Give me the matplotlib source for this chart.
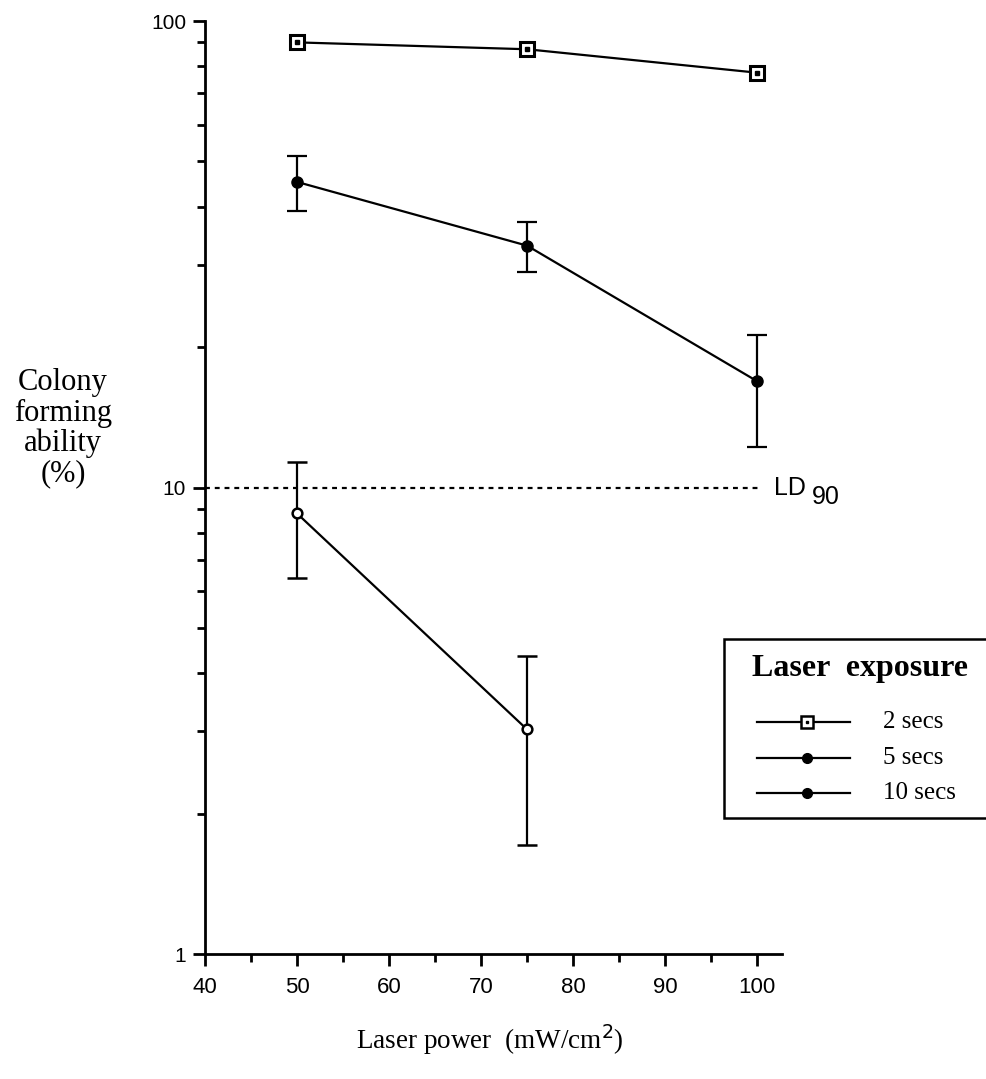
import matplotlib
matplotlib.use("Agg")
import matplotlib.pyplot as plt
from matplotlib.lines import Line2D
from matplotlib.patches import Rectangle
from matplotlib.ticker import FixedLocator, NullFormatter, LogLocator

# 데이터
power = [50, 75, 100]
cfa_2s = [90.0, 87.0, 77.5]
cfa_5s = [45.2, 33.0, 16.9]
err_5s_hi = [51.4, 37.0, 21.2]
err_5s_lo = [39.1, 29.0, 12.2]
power_10s = [50, 75]
cfa_10s = [8.8, 3.03]
err_10s_hi = [11.35, 4.35]
err_10s_lo = [6.4, 1.71]
ld90 = 10
series_labels = ["2 secs", "5 secs", "10 secs"]

SANS = ["Liberation Sans", "DejaVu Sans"]
SERIF = ["Liberation Serif", "DejaVu Serif"]
plt.rcParams["font.family"] = SANS

fig = plt.figure(figsize=(9.86, 10.79), dpi=100)
ax = fig.add_axes([0.2079, 0.1158, 0.5852, 0.8647])
ax.set_yscale("log")
ax.set_xlim(40, 102.7)
ax.set_ylim(1, 100)

lw = 1.6
# 2 secs: 속이 빈 사각형 + 가운데 점
ax.plot(power, cfa_2s, color="black", lw=lw, marker="s", ms=10,
        mfc="white", mec="black", mew=2.2, zorder=3)
ax.plot(power, cfa_2s, ls="none", marker="s", ms=2.5, color="black", zorder=4)

# 5 secs
yerr5 = [[c - lo for c, lo in zip(cfa_5s, err_5s_lo)], [hi - c for c, hi in zip(cfa_5s, err_5s_hi)]]
ax.errorbar(power, cfa_5s, yerr=yerr5, color="black", lw=lw, marker="o", ms=8,
            capsize=7, capthick=lw, elinewidth=lw, zorder=3)

# 10 secs
yerr10 = [[c - lo for c, lo in zip(cfa_10s, err_10s_lo)], [hi - c for c, hi in zip(cfa_10s, err_10s_hi)]]
ax.errorbar(power_10s, cfa_10s, yerr=yerr10, color="black", lw=lw, marker="o", ms=7,
            mfc="white", mec="black", mew=1.8, capsize=7, capthick=lw, elinewidth=lw, zorder=3)

# LD90 기준선
ax.plot([40, 100.3], [ld90, ld90], color="black", lw=1.6, ls=(0, (2.2, 2.2)), zorder=2)
ax.text(101.8, ld90, "LD", fontsize=18, va="center", ha="left")
ax.text(106.0, ld90 * 0.955, "90", fontsize=18, va="center", ha="left")

# 축 스타일
for s in ("top", "right"):
    ax.spines[s].set_visible(False)
for s in ("left", "bottom"):
    ax.spines[s].set_linewidth(2)
ax.yaxis.set_major_locator(FixedLocator([1, 10, 100]))
ax.set_yticklabels(["1", "10", "100"])
ax.yaxis.set_minor_locator(LogLocator(base=10, subs=range(2, 10)))
ax.yaxis.set_minor_formatter(NullFormatter())
ax.set_xticks(range(40, 101, 10))
ax.set_xticks(range(45, 101, 10), minor=True)
ax.tick_params(which="major", direction="out", length=8.5, width=2, colors="black")
ax.tick_params(which="minor", direction="out", length=5.5, width=2)
ax.tick_params(axis="x", which="major", labelsize=16, pad=8)
ax.tick_params(axis="y", which="major", labelsize=15, pad=5)

fig.text(0.064, 0.603, "Colony\nforming\nability\n(%)", family=SERIF, fontsize=22,
         ha="center", va="center", linespacing=1.05)
fig.text(0.497, 0.036, "Laser power  (mW/cm$^2$)", family=SERIF, fontsize=19.5,
         ha="center", va="center")

# 범례 상자 (오른쪽이 그림 밖으로 잘림)
fig.add_artist(Rectangle((0.7343, 0.2419), 0.35, 0.1659, transform=fig.transFigure,
                         facecolor="white", edgecolor="black", lw=1.8, zorder=5))
fig.text(0.7627, 0.3809, "Laser  exposure", family=SERIF, fontsize=23, weight="bold",
         ha="left", va="center", zorder=6)
row_y = [0.3309, 0.2975, 0.2651]
leg_markers = [dict(marker="s", ms=8, mfc="white", mec="black", mew=1.8),
               dict(marker="o", ms=7, color="black"),
               dict(marker="o", ms=7, color="black")]
for y, lab, mk in zip(row_y, series_labels, leg_markers):
    fig.add_artist(Line2D([0.7677, 0.8621], [y, y], transform=fig.transFigure,
                          color="black", lw=lw, zorder=6))
    fig.add_artist(Line2D([0.8185], [y], transform=fig.transFigure, ls="none",
                          zorder=7, **mk))
    fig.text(0.8955, y, lab, family=SERIF, fontsize=18, ha="left", va="center", zorder=6)
fig.add_artist(Line2D([0.8185], [row_y[0]], transform=fig.transFigure, ls="none",
                      marker="s", ms=2, color="black", zorder=8))

fig.savefig("out.png", dpi=100)
